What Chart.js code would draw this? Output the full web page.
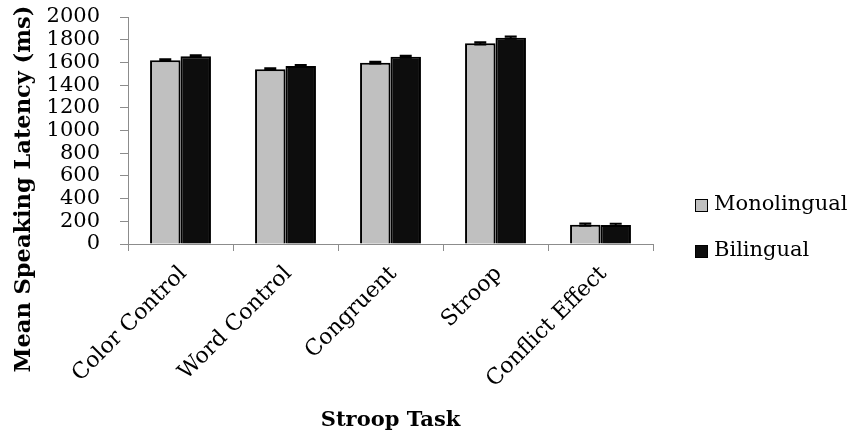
<!DOCTYPE html>
<html>
<head>
<meta charset="utf-8">
<script src="https://cdn.jsdelivr.net/npm/chart.js@4.4.1/dist/chart.umd.min.js"></script>
<style>
  html, body { margin: 0; padding: 0; background: #ffffff; }
  #wrap { width: 861px; height: 436px; position: relative; }
</style>
</head>
<body>
<div id="wrap"><canvas id="c" width="861" height="436"></canvas></div>
<script>
// Mean speaking latency (ms) by Stroop task condition
const categories = ['Color Control', 'Word Control', 'Congruent', 'Stroop', 'Conflict Effect'];
const monolingual = [1620, 1540, 1598, 1768, 170];
const bilingual = [1655, 1568, 1650, 1818, 168];
const monolingualErr = [8, 8, 8, 10, 10];
const bilingualErr = [8, 8, 8, 10, 10];
const seriesNames = ['Monolingual', 'Bilingual'];
const yTicks = [0, 200, 400, 600, 800, 1000, 1200, 1400, 1600, 1800, 2000];

const SERIF = '"DejaVu Serif", serif';

// error bars drawn at each bar's top using the value scale
const errorBars = {
  id: 'errorBars',
  afterDatasetsDraw(chart) {
    const ctx = chart.ctx;
    const y = chart.scales.y;
    const errs = [monolingualErr, bilingualErr];
    chart.data.datasets.forEach((ds, di) => {
      const meta = chart.getDatasetMeta(di);
      meta.data.forEach((bar, i) => {
        const v = ds.data[i];
        const hi = y.getPixelForValue(v + errs[di][i]);
        const lo = y.getPixelForValue(v - errs[di][i]);
        ctx.save();
        ctx.strokeStyle = '#000';
        ctx.lineWidth = 2;
        ctx.beginPath();
        ctx.moveTo(bar.x, hi); ctx.lineTo(bar.x, lo);
        ctx.moveTo(bar.x - 6, hi); ctx.lineTo(bar.x + 6, hi);
        ctx.moveTo(bar.x - 6, lo); ctx.lineTo(bar.x + 6, lo);
        ctx.stroke();
        ctx.restore();
      });
    });
  }
};

// soft drop shadow behind the bars
const barShadow = {
  id: 'barShadow',
  beforeDatasetsDraw(chart) {
    const ctx = chart.ctx;
    ctx.save();
    ctx.shadowColor = 'rgba(0,0,0,0.3)';
    ctx.shadowBlur = 3;
    ctx.shadowOffsetX = 1.5;
    ctx.shadowOffsetY = 1.5;
  },
  afterDatasetsDraw(chart) {
    chart.ctx.restore();
  }
};

// vertical value-axis title and the series key on the right
const sideText = {
  id: 'sideText',
  afterDraw(chart) {
    const ctx = chart.ctx;
    ctx.save();
    ctx.fillStyle = '#000';
    ctx.font = 'bold 22.5px ' + SERIF;
    ctx.textAlign = 'center';
    ctx.textBaseline = 'middle';
    ctx.translate(24, 189);
    ctx.rotate(-Math.PI / 2);
    ctx.fillText('Mean Speaking Latency (ms)', 0, 0);
    ctx.restore();

    ctx.save();
    ctx.font = '21px ' + SERIF;
    ctx.textBaseline = 'middle';
    ctx.textAlign = 'left';
    const rows = [205, 251];
    chart.data.datasets.forEach((ds, i) => {
      const yy = rows[i];
      ctx.fillStyle = ds.backgroundColor;
      ctx.fillRect(695, yy - 6, 13, 13);
      ctx.strokeStyle = '#000';
      ctx.lineWidth = 1;
      ctx.strokeRect(695.5, yy - 5.5, 12, 12);
      ctx.fillStyle = '#000';
      ctx.fillText(ds.label, 714, yy);
    });
    ctx.restore();
  }
};

new Chart(document.getElementById('c'), {
  type: 'bar',
  data: {
    labels: categories,
    datasets: [
      { label: seriesNames[0], data: monolingual, backgroundColor: '#c0c0c0', borderColor: '#000', borderWidth: 2 },
      { label: seriesNames[1], data: bilingual, backgroundColor: '#0d0d0d', borderColor: '#000', borderWidth: 2 }
    ]
  },
  plugins: [barShadow, errorBars, sideText],
  options: {
    responsive: false,
    animation: false,
    events: [],
    layout: { padding: { top: 17, right: 208, bottom: 0, left: 0 } },
    datasets: { bar: { categoryPercentage: 0.58, barPercentage: 1.0 } },
    plugins: { legend: { display: false }, tooltip: { enabled: false } },
    scales: {
      x: {
        grid: { offset: true, drawOnChartArea: false, color: '#8c8c8c', tickLength: 7, lineWidth: 1 },
        border: { color: '#8c8c8c', width: 1 },
        ticks: { font: { family: SERIF, size: 22 }, color: '#000', maxRotation: 45, minRotation: 45, autoSkip: false, padding: 10, labelOffset: 3 },
        title: { display: true, text: 'Stroop Task', font: { family: SERIF, size: 21, weight: 'bold' }, color: '#000', padding: { top: 14, bottom: 3 } },
        afterFit(s) { s.height = 436 - 244; s.paddingTop = 0; s.paddingBottom = 0; }
      },
      y: {
        min: 0, max: 2000,
        afterBuildTicks(s) { s.ticks = yTicks.map(v => ({ value: v })); },
        grid: { drawOnChartArea: false, color: '#8c8c8c', tickLength: 8 },
        border: { color: '#8c8c8c', width: 1 },
        ticks: { font: { family: SERIF, size: 21 }, color: '#000', autoSkip: false, padding: 20, callback: v => String(v) },
        afterFit(s) { s.width = 128; s.paddingTop = 0; s.paddingBottom = 0; }
      }
    }
  }
});
</script>
</body>
</html>
